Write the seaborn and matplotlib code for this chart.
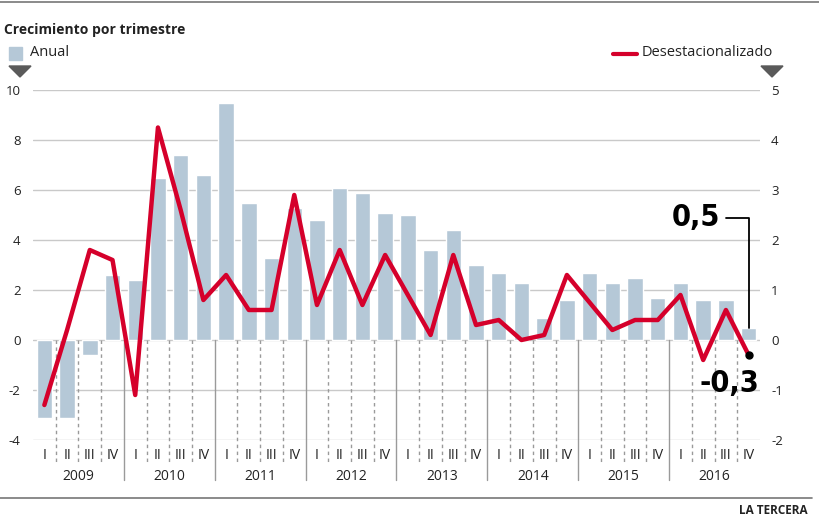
"""
Crecimiento por trimestre: variación anual (barras) vs desestacionalizada (línea).
"""
import numpy as np
import pandas as pd
import matplotlib
matplotlib.use("Agg")  # Non-interactive backend
import matplotlib.pyplot as plt
from matplotlib.lines import Line2D
from matplotlib.patches import Polygon, Rectangle
import seaborn as sns

# ── Data ──────────────────────────────────────────────────────────────────
years = ["2009", "2010", "2011", "2012", "2013", "2014", "2015", "2016"]
quarters = ["I", "II", "III", "IV"]

anual = [-3.1, -3.1, -0.6, 2.6,
         2.4, 6.5, 7.4, 6.6,
         9.5, 5.5, 3.3, 5.3,
         4.8, 6.1, 5.9, 5.1,
         5.0, 3.6, 4.4, 3.0,
         2.7, 2.3, 0.9, 1.6,
         2.7, 2.3, 2.5, 1.7,
         2.3, 1.6, 1.6, 0.5]

desestacionalizado = [-1.3, 0.2, 1.8, 1.6,
                      -1.1, 4.25, 2.6, 0.8,
                      1.3, 0.6, 0.6, 2.9,
                      0.7, 1.8, 0.7, 1.7,
                      0.9, 0.1, 1.7, 0.3,
                      0.4, 0.0, 0.1, 1.3,
                      0.75, 0.2, 0.4, 0.4,
                      0.9, -0.4, 0.6, -0.3]

left_ticks = [-4, -2, 0, 2, 4, 6, 8, 10]
right_ticks = [-2, -1, 0, 1, 2, 3, 4, 5]

# ── Style ─────────────────────────────────────────────────────────────────
BAR_COLOR = "#b5c8d7"
LINE_COLOR = "#d5002b"
GRID_COLOR = "#c9c9c9"
SEP_COLOR = "#9a9a9a"
TEXT_COLOR = "#222222"
BIG_FONT = dict(fontsize=22, fontweight="bold", fontstretch="condensed",
                family=["DejaVu Sans"], color="black")

sns.set_theme(style="white")
plt.rcParams["font.family"] = ["Open Sans", "DejaVu Sans"]

W, H = 820, 520
fig = plt.figure(figsize=(W / 100, H / 100), dpi=100)


def fx(px):
    return px / W


def fy(py):
    return 1 - py / H


df = pd.DataFrame({
    "idx": np.arange(len(anual)),
    "anual": anual,
    "desest": desestacionalizado,
    "trimestre": quarters * len(years),
})

ax = fig.add_axes([fx(33), fy(440), fx(760) - fx(33), fy(90) - fy(440)])
sns.barplot(data=df, x="idx", y="anual", color=BAR_COLOR, saturation=1,
            width=0.68, ax=ax, zorder=2)
ax.set_xlim(-0.5, len(anual) - 0.5)
ax.set_ylim(-4, 10)
ax.set_yticks(left_ticks)
ax.set_yticklabels([str(t) for t in left_ticks])
ax.yaxis.grid(True, color=GRID_COLOR, linewidth=1)
ax.set_axisbelow(True)
for s in ax.spines.values():
    s.set_visible(False)
ax.tick_params(axis="y", length=0, pad=9, labelsize=9.5, labelcolor=TEXT_COLOR)
ax.tick_params(axis="x", length=0, pad=6, labelsize=10, labelcolor=TEXT_COLOR)
ax.set_xticks(df["idx"])
ax.set_xticklabels(df["trimestre"])
ax.set_xlabel("")
ax.set_ylabel("")

# quarter / year separators below zero
for i in range(len(anual) - 1):
    xs = i + 0.5
    if (i + 1) % 4 == 0:
        ax.plot([xs, xs], [0, -5.6], color=SEP_COLOR, lw=1, clip_on=False, zorder=1)
    else:
        ax.plot([xs, xs], [0, -4.9], color=SEP_COLOR, lw=1, ls=(0, (2.5, 2.5)),
                clip_on=False, zorder=1)

for k, yr in enumerate(years):
    ax.text(4 * k + 1.5, -5.48, yr, ha="center", va="center", fontsize=10,
            color=TEXT_COLOR, clip_on=False)

# seasonally adjusted line on right axis
ax2 = ax.twinx()
sns.lineplot(data=df, x="idx", y="desest", color=LINE_COLOR, lw=3.2, ax=ax2,
             zorder=3)
ax2.set_ylim(-2, 5)
ax2.set_xlim(-0.5, len(anual) - 0.5)
ax2.set_yticks(right_ticks)
ax2.set_yticklabels([str(t) for t in right_ticks])
ax2.tick_params(axis="y", length=0, pad=8, labelsize=9.5, labelcolor=TEXT_COLOR)
ax2.set_ylabel("")
ax2.grid(False)
for s in ax2.spines.values():
    s.set_visible(False)

# annotations for last quarter
last = len(anual) - 1
ax.plot([last, last, 30.0], [anual[last], 4.88, 4.88], color="black", lw=1.3,
        clip_on=False, zorder=4)
ax.text(29.75, 4.88, f"{anual[last]:.1f}".replace(".", ","), ha="right",
        va="center", clip_on=False, **BIG_FONT)
ax2.plot([last], [desestacionalizado[last]], "o", color="black", ms=5, zorder=5)
ax2.text(31.45, -0.86, f"{desestacionalizado[last]:.1f}".replace(".", ","),
         ha="right", va="center", clip_on=False, **BIG_FONT)

# ── Header, legend, footer ────────────────────────────────────────────────
fig.add_artist(Line2D([0, 1], [fy(2), fy(2)], color="#777777", lw=1.2,
                      transform=fig.transFigure))
fig.add_artist(Line2D([0, fx(812)], [fy(498), fy(498)], color="#777777", lw=1.2,
                      transform=fig.transFigure))
fig.text(fx(4), fy(30), "Crecimiento por trimestre", fontsize=10,
         fontweight="bold", color=TEXT_COLOR, va="center", ha="left")

fig.add_artist(Rectangle((fx(9), fy(60)), fx(13), fy(47) - fy(60),
                         color=BAR_COLOR, transform=fig.transFigure))
fig.text(fx(30), fy(53), "Anual", fontsize=10.5, color=TEXT_COLOR,
         va="center", ha="left")
fig.add_artist(Line2D([fx(613), fx(637)], [fy(54), fy(54)], color=LINE_COLOR,
                      lw=3, transform=fig.transFigure))
fig.text(fx(642), fy(53), "Desestacionalizado", fontsize=10.5, color=TEXT_COLOR,
         va="center", ha="left")

for cx in (20, 772):
    tri = [(fx(cx - 11), fy(66)), (fx(cx + 11), fy(66)), (fx(cx), fy(77))]
    fig.add_artist(Polygon(tri, closed=True, color="#5a5a5a",
                           transform=fig.transFigure))

fig.text(fx(808), fy(511), "LA TERCERA", fontsize=8.5, fontweight="bold",
         color=TEXT_COLOR, va="center", ha="right")

fig.savefig("out.png", dpi=100)
plt.close(fig)
